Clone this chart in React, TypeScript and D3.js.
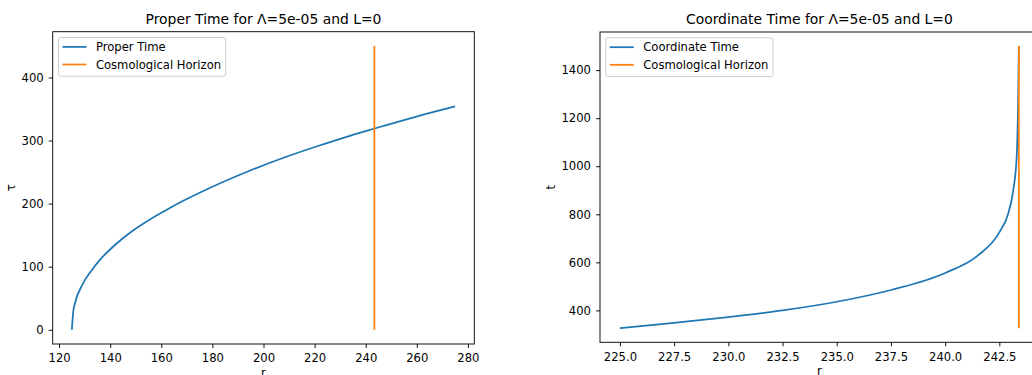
import React, { useEffect, useRef } from 'react';
import * as d3 from 'd3';

// proper time along the radial path
const properR = [125, 125.6, 126.0, 129.2, 132.5, 135.8, 142.3, 148.8, 155.4, 161.8, 168.4, 181.5, 194.6, 207.6, 220.7, 233.8, 243.2, 259.9, 275];
const properTau = [0, 31, 39, 72, 93, 110, 136, 157, 174.5, 189.5, 204, 229.6, 252.2, 272.3, 290.5, 307.5, 318.7, 338, 354];

// coordinate time (right panel)
const coordR = [225, 227.5, 230, 232.5, 235, 237.5, 240, 241.5, 242.5, 242.91, 243.14, 243.3, 243.37, 243.4];
const coordT = [326, 348, 372, 400, 436, 485, 556, 628, 725, 803, 900, 1039, 1289, 1500];

const horizonR = 243.4;
const properHorizonTau = [0, 450];
const coordHorizonT = [326, 1500];

const properXTicks = [120, 140, 160, 180, 200, 220, 240, 260, 280];
const properYTicks = [0, 100, 200, 300, 400];
const coordXTicks = [225, 227.5, 230, 232.5, 235, 237.5, 240, 242.5];
const coordYTicks = [400, 600, 800, 1000, 1200, 1400];

const BLUE = '#1f77b4';
const ORANGE = '#ff7f0e';
const FONT = 'DejaVu Sans';
const TICK_FS = 11.6;

interface Panel {
  title: string;
  yLabel: string;
  seriesLabel: string;
  r: number[];
  t: number[];
  horizonT: number[];
  xTicks: number[];
  yTicks: number[];
  xFmt: (d: number) => string;
  box: { x0: number; x1: number; y0: number; y1: number };
  yLabelX: number;
}

const panels: Panel[] = [
  {
    title: 'Proper Time for Λ=5e-05 and L=0',
    yLabel: 'τ',
    seriesLabel: 'Proper Time',
    r: properR,
    t: properTau,
    horizonT: properHorizonTau,
    xTicks: properXTicks,
    yTicks: properYTicks,
    xFmt: d => d3.format('d')(d),
    box: { x0: 52.7, x1: 474.3, y0: 31.7, y1: 344 },
    yLabelX: 15,
  },
  {
    title: 'Coordinate Time for Λ=5e-05 and L=0',
    yLabel: 't',
    seriesLabel: 'Coordinate Time',
    r: coordR,
    t: coordT,
    horizonT: coordHorizonT,
    xTicks: coordXTicks,
    yTicks: coordYTicks,
    xFmt: d => d3.format('.1f')(d),
    box: { x0: 600, x1: 1038.8, y0: 32, y1: 342.3 },
    yLabelX: 555,
  },
];

// matplotlib-style 5% margins
const padExtent = (vals: number[]): [number, number] => {
  const [lo, hi] = d3.extent(vals) as [number, number];
  const m = (hi - lo) * 0.05;
  return [lo - m, hi + m];
};

function drawPanel(svg: d3.Selection<SVGSVGElement, unknown, null, undefined>, p: Panel) {
  const { box } = p;
  const x = d3.scaleLinear().domain(padExtent([...p.r, horizonR])).range([box.x0, box.x1]);
  const y = d3.scaleLinear().domain(padExtent([...p.t, ...p.horizonT])).range([box.y1, box.y0]);

  const g = svg.append('g');

  const line = d3.line<number>()
    .x((_, i) => x(p.r[i]))
    .y(d => y(d))
    .curve(d3.curveMonotoneX);

  g.append('path')
    .attr('d', line(p.t))
    .attr('fill', 'none')
    .attr('stroke', BLUE)
    .attr('stroke-width', 1.75)
    .attr('stroke-linejoin', 'round');

  const vline = d3.line<number>().x(() => x(horizonR)).y(d => y(d));
  g.append('path')
    .attr('d', vline(p.horizonT))
    .attr('fill', 'none')
    .attr('stroke', ORANGE)
    .attr('stroke-width', 1.75);

  // spines
  g.append('rect')
    .attr('x', box.x0)
    .attr('y', box.y0)
    .attr('width', box.x1 - box.x0)
    .attr('height', box.y1 - box.y0)
    .attr('fill', 'none')
    .attr('stroke', '#000')
    .attr('stroke-width', 0.93);

  const xAxis = g.append('g')
    .attr('transform', `translate(0,${box.y1})`)
    .call(d3.axisBottom(x).tickValues(p.xTicks).tickFormat(d => p.xFmt(d as number)).tickSize(4).tickPadding(6));
  const yAxis = g.append('g')
    .attr('transform', `translate(${box.x0},0)`)
    .call(d3.axisLeft(y).tickValues(p.yTicks).tickFormat(d3.format('d')).tickSize(4).tickPadding(5));

  [xAxis, yAxis].forEach(a => {
    a.select('.domain').remove();
    a.attr('font-family', FONT).attr('font-size', TICK_FS);
    a.selectAll('line').attr('stroke', '#000').attr('stroke-width', 0.93);
    a.selectAll('text').attr('fill', '#000');
  });

  // axis labels and title
  g.append('text')
    .attr('x', (box.x0 + box.x1) / 2)
    .attr('y', box.y1 + 33)
    .attr('text-anchor', 'middle')
    .attr('font-family', FONT)
    .attr('font-size', TICK_FS)
    .text('r');

  g.append('text')
    .attr('transform', `translate(${p.yLabelX},${(box.y0 + box.y1) / 2}) rotate(-90)`)
    .attr('text-anchor', 'middle')
    .attr('font-family', FONT)
    .attr('font-size', TICK_FS)
    .text(p.yLabel);

  g.append('text')
    .attr('x', (box.x0 + box.x1) / 2)
    .attr('y', box.y0 - 7.7)
    .attr('text-anchor', 'middle')
    .attr('font-family', FONT)
    .attr('font-size', 13.9)
    .text(p.title);

  // legend
  const lg = g.append('g').attr('transform', `translate(${box.x0 + 5.8},${box.y0 + 5.8})`);
  const frame = lg.append('rect')
    .attr('rx', 2.3)
    .attr('fill', 'white')
    .attr('fill-opacity', 0.8)
    .attr('stroke', '#cccccc')
    .attr('stroke-width', 1);
  const items = [
    { label: p.seriesLabel, color: BLUE },
    { label: 'Cosmological Horizon', color: ORANGE },
  ];
  let maxW = 0;
  items.forEach((it, i) => {
    const cy = 9.4 + i * 17.6;
    lg.append('line')
      .attr('x1', 4).attr('x2', 28)
      .attr('y1', cy).attr('y2', cy)
      .attr('stroke', it.color)
      .attr('stroke-width', 1.75);
    const t = lg.append('text')
      .attr('x', 37.4)
      .attr('y', cy + 4.2)
      .attr('font-family', FONT)
      .attr('font-size', TICK_FS)
      .attr('fill', '#000')
      .text(it.label);
    const node = t.node() as SVGTextElement;
    maxW = Math.max(maxW, node.getComputedTextLength());
  });
  frame.attr('x', 0).attr('y', 0).attr('width', 37.4 + maxW + 4.6).attr('height', 38.7);
}

export default function App() {
  const svgRef = useRef<SVGSVGElement>(null);

  useEffect(() => {
    if (!svgRef.current) return;
    const svg = d3.select(svgRef.current);
    svg.selectAll('*').remove();
    panels.forEach(p => drawPanel(svg, p));
  }, []);

  return (
    <div style={{ position: 'absolute', left: 0, top: 0 }}>
      <svg ref={svgRef} width={1032} height={375} style={{ display: 'block', background: '#fff' }}></svg>
    </div>
  );
}
